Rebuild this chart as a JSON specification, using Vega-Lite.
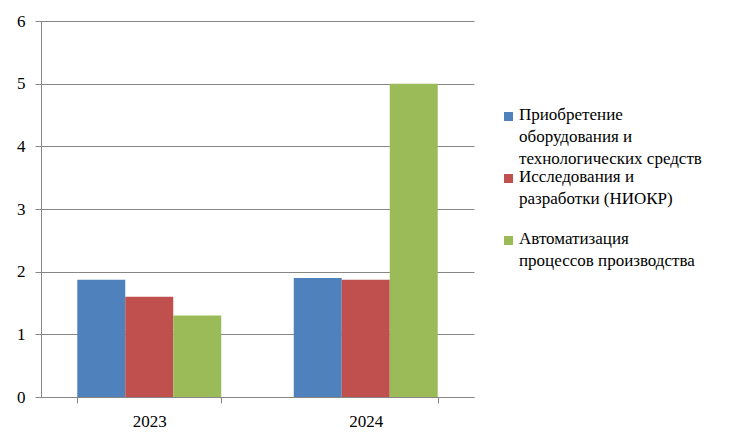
{
  "$schema": "https://vega.github.io/schema/vega-lite/v6.json",
  "width": 433,
  "height": 376,
  "autosize": "none",
  "padding": {"left": 41, "top": 21, "right": 272, "bottom": 37},
  "background": "white",
  "data": {
    "values": [
      {"year": "2023", "category": "Приобретение оборудования и технологических средств", "value": 1.87},
      {"year": "2023", "category": "Исследования и разработки (НИОКР)", "value": 1.6},
      {"year": "2023", "category": "Автоматизация процессов производства", "value": 1.3},
      {"year": "2024", "category": "Приобретение оборудования и технологических средств", "value": 1.9},
      {"year": "2024", "category": "Исследования и разработки (НИОКР)", "value": 1.87},
      {"year": "2024", "category": "Автоматизация процессов производства", "value": 5.0}
    ]
  },
  "mark": {"type": "bar"},
  "encoding": {
    "x": {
      "field": "year",
      "type": "nominal",
      "scale": {"paddingInner": 0.335, "paddingOuter": 0.1675},
      "axis": {
        "title": null,
        "labelAngle": 0,
        "tickBand": "extent",
        "tickSize": 6,
        "labelPadding": 10,
        "domainColor": "#868686",
        "tickColor": "#868686",
        "labelFontSize": 17,
        "labelColor": "#000000"
      }
    },
    "xOffset": {
      "field": "category",
      "type": "nominal",
      "sort": ["Приобретение оборудования и технологических средств", "Исследования и разработки (НИОКР)", "Автоматизация процессов производства"],
      "scale": {"paddingInner": 0, "paddingOuter": 0}
    },
    "y": {
      "field": "value",
      "type": "quantitative",
      "scale": {"domain": [0, 6], "nice": false},
      "axis": {
        "title": null,
        "values": [0, 1, 2, 3, 4, 5, 6],
        "grid": true,
        "gridColor": "#868686",
        "gridWidth": 1,
        "domainColor": "#868686",
        "tickColor": "#868686",
        "tickSize": 6,
        "labelPadding": 10,
        "labelFontSize": 17,
        "labelColor": "#000000"
      }
    },
    "color": {
      "field": "category",
      "type": "nominal",
      "sort": ["Приобретение оборудования и технологических средств", "Исследования и разработки (НИОКР)", "Автоматизация процессов производства"],
      "scale": {
        "domain": ["Приобретение оборудования и технологических средств", "Исследования и разработки (НИОКР)", "Автоматизация процессов производства"],
        "range": ["#4F81BD", "#C0504D", "#9BBB59"]
      },
      "legend": {
        "title": null,
        "orient": "none",
        "legendX": 459,
        "legendY": 87,
        "symbolType": "square",
        "symbolSize": 81,
        "symbolStrokeWidth": 0,
        "labelFontSize": 17,
        "labelColor": "#000000",
        "labelLimit": 300,
        "labelOffset": 2,
        "labelBaseline": "top",
        "rowPadding": 0,
        "encode": {"labels": {"update": {"lineHeight": {"value": 22}, "dy": {"value": -10}}}},
        "labelExpr": "datum.label == 'Приобретение оборудования и технологических средств' ? ['Приобретение', 'оборудования и', 'технологических средств'] : datum.label == 'Исследования и разработки (НИОКР)' ? ['Исследования и', 'разработки (НИОКР)', ''] : ['Автоматизация', 'процессов производства', '']"
      }
    }
  },
  "config": {
    "font": "Liberation Serif",
    "view": {"stroke": null},
    "axis": {"ticks": true, "labelFont": "Liberation Serif"},
    "legend": {"labelFont": "Liberation Serif"}
  }
}
